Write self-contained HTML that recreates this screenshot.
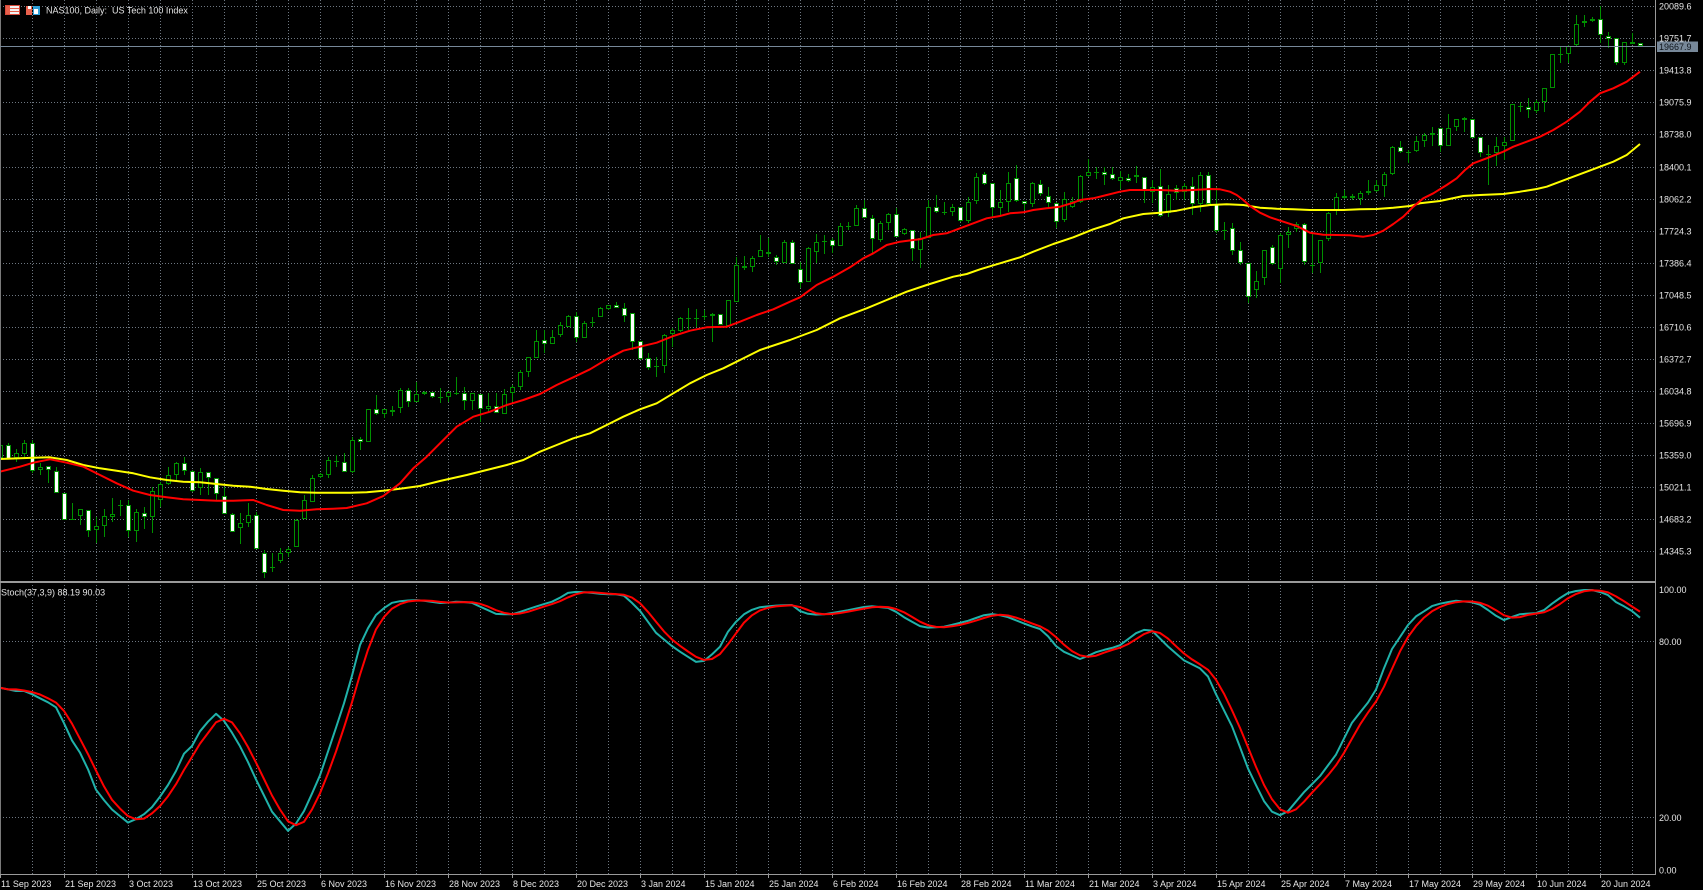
<!DOCTYPE html>
<html><head><meta charset="utf-8">
<style>
html,body{margin:0;padding:0;background:#000;overflow:hidden;}
svg{display:block;}
text{font-family:"Liberation Sans",sans-serif;font-size:9px;fill:#e6e6e6;}
</style></head>
<body>
<svg id="c" width="1703" height="890" viewBox="0 0 1703 890" xmlns="http://www.w3.org/2000/svg">
<rect x="0" y="0" width="1703" height="890" fill="#000"/>
<g id="grid"></g>
<g id="cand" shape-rendering="crispEdges"></g>
<g id="ma"></g>
<g id="stoch"></g>
<g id="axes"></g>
<g id="txt"></g>
</svg>
<script>
(function(){
var G='#009000';
var svg=document.getElementById('c');
function f(n){return Math.round(n*10)/10;}
/* ---------- grid ---------- */
var s='';
for(var j=1;j<=51;j++){var x=32*j+0.5;s+='<line x1="'+x+'" y1="0" x2="'+x+'" y2="874" stroke="#6e7781" stroke-dasharray="1 2"/>';}
var plabels=['14345.3','14683.2','15021.1','15359.0','15696.9','16034.8','16372.7','16710.6','17048.5','17386.4','17724.3','18062.2','18400.1','18738.0','19075.9','19413.8','19751.7','20089.6'];
var t='';
for(var k=0;k<plabels.length;k++){
  var y=Math.round(551-32.04*k)+0.5;
  s+='<line x1="0" y1="'+y+'" x2="1655" y2="'+y+'" stroke="#6e7781" stroke-dasharray="1 2"/>';
  t+='<text x="1659" y="'+(y+3)+'">'+plabels[k]+'</text>';
}
s+='<line x1="0" y1="641.5" x2="1655" y2="641.5" stroke="#6e7781" stroke-dasharray="1 2"/>';
s+='<line x1="0" y1="817.5" x2="1655" y2="817.5" stroke="#6e7781" stroke-dasharray="1 2"/>';
document.getElementById('grid').innerHTML=s;

/* ---------- candles [type(1 bull,0 bear,2 doji), top, bottom, high, low] ---------- */
var B=[
[1,445,458,443,460],[0,445.3,459.3,443.3,459.3],[1,453.3,458.3,449.3,461.7],[1,443.3,454,440,456.7],[0,443.3,470.7,440,473.3],
[1,466.7,470,463.3,475],[0,466,470,466,482.7],[0,470.7,493.3,466.7,493.3],[0,492.7,520,492.7,520],[2,519,519,503.3,520],
[1,509.3,515.7,509.3,525],[0,510,531,510,536.7],[1,526,530,516.7,542.7],[1,516,526,509.3,536.7],[1,514,516.7,498.3,521.7],
[2,505,505,500,516],[0,505,530.7,500,536.7],[1,512.3,531,509.3,541.7],[0,512.7,516.7,507.3,529.3],[1,490.7,516.7,486.7,533.3],
[1,484,500,481.7,507.3],[1,475,484,466.7,485],[1,462.7,475,461.7,480],[0,463.3,471,456.7,475],[0,470.7,491,470,491.7],
[1,471.7,488.3,468.3,495],[0,471.7,477.7,471.7,495],[0,477.7,494,477.7,500],[0,496,514.3,486.7,514.3],[0,514.3,532.3,513.3,532.3],
[1,523.3,528.3,513.3,544],[1,515.3,522.7,503.3,526.7],[0,515.3,549,512,549],[0,553.3,572.7,550,578.3],[2,566.7,566.7,553.3,571.7],
[1,553.3,560.7,548.3,562.7],[1,549.3,553.3,546.7,556.7],[1,520,547.3,519.3,547.3],[1,500,519.3,495,519.3],[1,478.3,502.3,475,502.3],
[1,474,477.3,473.3,478.3],[1,460,475,456.7,478.3],[2,460.7,460.7,455,466.7],[0,461.7,471.7,452.7,471.7],[1,440,471.7,436.7,472.7],
[0,438.7,441.7,436.7,450],[1,409.3,441.7,409.3,441.7],[0,409.3,414.3,395,415],[1,409.3,414,409.3,418.3],[0,410,411.7,406,416],
[1,390,408.3,388.3,413.3],[0,390,401.7,388.3,406.7],[1,394.3,402.3,381.7,402.3],[1,392,394.3,390.7,395],[0,391.7,396.7,391.7,398.3],
[2,397,397,388.3,402.7],[1,392,396.7,390.7,401.7],[2,392.7,392.7,377.3,395],[0,393.3,401,387.3,410],[1,393.3,401,392.7,410],
[0,394.3,409.3,394.3,421.7],[1,405.7,409.3,393.3,413.3],[0,406,412.7,392.7,413.3],[1,394,414,389.3,414],[1,386.7,393.3,385,401.7],
[1,371.7,386.7,370,390],[1,357.3,371.7,357.3,376.7],[1,341,358.3,330,358.3],[0,340,344,330,353.3],[1,336.7,344,330,344],
[1,325,335,321.7,336.7],[1,316,326.7,315,326.7],[0,316,338.3,311.7,341.7],[1,322.7,337.7,320.7,337.7],[2,321.7,321.7,316.7,326.7],
[1,308.3,317.3,306.7,317.3],[1,305,309.3,305,310],[0,305,308.3,301.7,308.3],[0,308.3,315.7,303.3,321.7],[0,313.3,341.7,312.7,350],
[0,340.7,359.3,340.7,360],[0,358.3,368.3,353.3,370],[2,366,366,356.7,377.3],[1,335,365.7,334,373.3],[1,330,334.3,328.3,346.7],
[1,318.3,330.7,316.7,331.7],[2,317.7,317.7,308.3,330],[2,317.7,317.7,309.3,326.7],[2,315.7,315.7,310,320],[1,314,316,313.3,341.7],
[0,314,325,314,325],[1,300,326,300,326.7],[1,265,301.7,257,301.7],[0,265.7,267.7,256,270],[1,258.3,267.3,256,271.7],
[1,250,257.3,235,257.3],[0,251.7,254.3,238,256.7],[0,256.7,262.3,255,265],[1,241.7,262.7,240,263.3],[0,241.7,264,240,264],
[0,269,283.3,261.7,288.3],[1,248.3,282.3,247.3,282.3],[1,242.3,252.3,234,263.3],[2,240.7,240.7,235,254],[0,240,245.7,238.3,253.3],
[1,225.7,245.7,223.3,245.7],[2,226,226,221.7,230],[1,208.3,225.7,205,225.7],[0,207.7,217.7,200,218.3],[0,218.3,239.3,215,252.7],
[1,222.7,240,220.7,241.7],[1,214.3,223.3,213.3,230],[0,214.3,237.3,208.3,237.3],[1,229.3,234.3,228.3,235],[0,230,249,230,260.7],
[1,238.3,250,231.7,268.3],[1,207.3,238.3,200,238.3],[0,207.3,212.3,195,213.3],[2,211.7,211.7,201.7,215],[1,206.7,212.3,204,216],
[0,206.7,221,206.7,221.7],[1,201.7,220.7,197.3,223.3],[1,177.3,200.7,172.7,204],[0,174.3,184,171.7,185],[0,183.3,208.3,183.3,216.7],
[1,202.3,208.3,190,215],[1,182.7,202.3,171.7,211.7],[0,178.3,200.7,165,201.7],[0,200.7,204.3,200.7,210],[1,183.3,204.3,181.7,206.7],
[0,184,194.3,180,195.7],[0,195.7,203.3,186.7,206.7],[0,203.3,221.7,201.7,228.3],[1,199.3,220,191.7,221.7],[1,201,207.3,196.7,208.3],
[1,176,201.7,175,203.3],[1,171.7,175.7,159.3,176.7],[2,171.7,171.7,166.7,179.3],[0,171.7,175,166.7,185],[0,174.3,179.3,166.7,180],
[1,176.7,180.7,170.7,189.3],[0,178.3,181,174,181.7],[0,174.7,176.7,165.7,183.3],[0,176.7,190,176.7,203.3],[1,186.7,191.7,180,203.3],
[0,186,216,169.3,216.7],[1,194.3,213.3,185,217.3],[0,188.3,192.7,185,200],[1,185.7,192.3,182.7,200],[0,185.7,204,176.7,215],
[1,175.3,204,171.7,211.7],[0,175,204.3,171.7,205],[0,204.3,231,186.7,233.3],[2,230.3,230.3,221.7,240],[0,228.3,251,222.7,255],
[0,250,263.3,241.7,265],[0,263.3,296.7,263.3,303.3],[1,280.7,290,270.7,298.3],[1,250,278.3,250,285],[0,246.7,264.3,245,265],
[1,235,269.3,233.3,282.7],[1,232.3,235,226.7,248.3],[1,224.3,228.7,221.7,231.7],[0,224.3,262.3,223.3,265],[2,265,265,233.3,273.3],
[1,240,263.3,240,273.3],[1,213.3,239.3,211.7,240.7],[1,197.3,210,193.3,215],[1,195.7,197.3,190,199.3],[0,196,198.3,194,200],
[1,192.7,199.3,190.7,205],[1,191,192.7,180,195],[1,185.3,190.7,180,191.7],[1,174,185.7,171.7,196.7],[1,147.3,174,146,175],
[0,146.7,152.3,140.7,152.7],[2,151.7,151.7,150,163.3],[1,141.3,151,136,151.7],[1,135,141.3,133.3,146.7],[1,133.3,135,127.3,146],
[0,128.3,146,128.3,151.7],[1,128.3,145.7,114.3,145.7],[1,119.3,127.3,119.3,130.7],[1,118.3,119.3,116.7,131.7],[0,119.3,138.3,119.3,138.3],
[0,137.3,153.3,136.7,156.7],[2,154,154,145,185],[1,145.7,153.3,136.7,166],[1,141.7,145.7,136.7,160],[1,104.3,140.7,104.3,140.7],
[2,106,106,101.7,111.7],[0,106.7,110,98.3,118.3],[1,101.7,110.7,100,113.3],[1,88.3,102.3,88.3,111.7],[1,54,88.3,54,88.3],
[2,54,54,46.7,63.3],[1,46,54.3,45,63.3],[1,24,45,15,46.7],[1,21,23.3,15,27.3],[1,19,21,17.3,21.7],
[0,19,35,6,43.3],[0,35.7,39.3,31.7,48.3],[0,37.7,63.3,37.7,65],[1,42.3,62.7,41.7,65],[0,41.7,43.3,32.7,43.3],
[0,43.3,46,43.3,46.7]
];
s='';
for(var i=0;i<B.length;i++){
  var b=B[i],c=8*i;
  var hi=Math.round(b[3]),lo=Math.round(b[4]),tp=Math.round(b[1]),bt=Math.round(b[2]);
  if(lo<=hi)lo=hi+1;
  s+='<line x1="'+(c+0.5)+'" y1="'+hi+'" x2="'+(c+0.5)+'" y2="'+lo+'" stroke="'+G+'" stroke-width="1"/>';
  if(b[0]==2){
    s+='<line x1="'+(c-2)+'" y1="'+(tp+0.5)+'" x2="'+(c+3)+'" y2="'+(tp+0.5)+'" stroke="'+G+'" stroke-width="1"/>';
  }else{
    var h=bt-tp-1; if(h<1)h=1;
    s+='<rect x="'+(c-1.5)+'" y="'+(tp+0.5)+'" width="4" height="'+h+'" fill="'+(b[0]==1?'#000':'#fff')+'" stroke="'+G+'" stroke-width="1"/>';
  }
}
document.getElementById('cand').innerHTML=s;

/* ---------- moving averages ---------- */
var RED=[[0,471.7],[20,466.7],[33.3,462.7],[50,459.3],[66.7,462.7],[83.3,466.7],[100,475],[116.7,483.3],[133.3,490.7],[150,495],[166.7,497.3],[183.3,499.3],[200,500],[216.7,500.7],[233.3,500.7],[253.3,500],[266.7,505],[283.3,510],[300,510.7],[316.7,509.3],[333.3,508.7],[346.7,508],[366.7,503.3],[383.3,496],[400,483.3],[413.3,468.3],[426.7,456.7],[440,443.3],[456.7,426.7],[473.3,416.7],[490,411.7],[506.7,405],[523.3,400],[540,394],[556.7,385],[573.3,377.3],[590,369.3],[606.7,359.3],[623.3,350.7],[640,346.7],[656.7,342.7],[673.3,336],[690,330.7],[706.7,327.3],[726.7,326.7],[740,321.7],[756.7,315],[773.3,309.3],[790,301.7],[800,297.3],[816.7,285],[833.3,276.7],[850,267.3],[863.3,258.3],[873.3,253.3],[886.7,245],[900,241.7],[913.3,240],[920,239.3],[933.3,235],[946.7,233.3],[960,228.3],[973.3,223.3],[986.7,218.3],[1000,216],[1010,213.3],[1023.3,212.3],[1033.3,210],[1046.7,208.3],[1060,206.7],[1073.3,202.7],[1080,200],[1093.3,198.3],[1106.7,195],[1120,191.7],[1130,190],[1143.3,190],[1160,190],[1176.7,190.7],[1193.3,190],[1210,189],[1220,189.3],[1230,191.7],[1236.7,195],[1243.3,200],[1250,206],[1260,212.7],[1270,217.3],[1283.3,221.7],[1296.7,226],[1310,232.7],[1323.3,234.7],[1336.7,235],[1350,235.3],[1363.3,236.7],[1373.3,235],[1383.3,230.7],[1393.3,224],[1403.3,216.7],[1413.3,206.7],[1423.3,198.3],[1433.3,193.3],[1446.7,185],[1456.7,178.3],[1465,170],[1473.3,163.3],[1486.7,158.3],[1503.3,151.7],[1513.3,146.7],[1526.7,141.7],[1540,136.7],[1553.3,130],[1566.7,121.7],[1580,111.7],[1590,101.7],[1600,93.3],[1613.3,88.3],[1626.7,81.7],[1640,71.7]];
var YEL=[[0,459],[33.3,457.7],[50,457.3],[66.7,460],[83.3,465],[100,468.3],[116.7,470.7],[133.3,473.3],[150,477.3],[166.7,480],[183.3,481.7],[200,482.3],[216.7,484],[233.3,485.7],[250,486.7],[266.7,489],[283.3,490.7],[300,492.3],[316.7,492.7],[333.3,492.7],[350,492.7],[366.7,492.3],[383.3,490.7],[400,488.7],[420,486],[440,481],[466.7,475],[486.7,470],[506.7,465],[523.3,460],[540,451.7],[556.7,445],[573.3,438.3],[590,433.3],[606.7,425],[623.3,416.7],[640,409.3],[656.7,403.3],[673.3,393.3],[690,383.3],[706.7,375],[723.3,368.3],[740,360],[760,350],[790,340],[816.7,330],[840,318.3],[866.7,308.3],[886.7,300],[906.7,291.7],[926.7,285],[953.3,276.7],[966.7,274],[980,269.3],[1000,263.3],[1020,257.3],[1033.3,251.7],[1053.3,244],[1073.3,237.3],[1093.3,229.3],[1110,224],[1123.3,218.3],[1143.3,214],[1160,212.7],[1176.7,210.7],[1193.3,207.3],[1210,205],[1226.7,204.3],[1243.3,205],[1260,207.7],[1276.7,208.7],[1293.3,209.3],[1310,210],[1326.7,210],[1343.3,210],[1360,209.3],[1376.7,209],[1393.3,207.7],[1410,206],[1420,203.3],[1440,201],[1463.3,196],[1480,195],[1503.3,194],[1520,191.7],[1536.7,189],[1546.7,186.7],[1560,181.7],[1573.3,176.7],[1586.7,171.7],[1600,166.7],[1613.3,161.7],[1626.7,155],[1640,144]];
function pl(p){var r=[];for(var i=0;i<p.length;i++)r.push(f(p[i][0])+','+f(p[i][1]));return r.join(' ');}
document.getElementById('ma').innerHTML=
 '<polyline points="'+pl(YEL)+'" fill="none" stroke="#ffff00" stroke-width="2" stroke-linejoin="round"/>'+
 '<polyline points="'+pl(RED)+'" fill="none" stroke="#ff0000" stroke-width="2" stroke-linejoin="round"/>';

/* ---------- stochastic ---------- */
var TEAL=[[0,687.7],[15.7,691],[26.1,691],[36.6,696.7],[47.1,701.7],[57.5,708.3],[70.6,738.3],[83.7,758.3],[96.8,791.7],[112.4,810],[128.1,822.7],[141.2,816.7],[154.3,805],[172.6,778.3],[185.7,750],[193.5,745],[201.4,728.3],[217.1,712.7],[227.5,725],[243.2,751.7],[256.3,780],[272,811.7],[288.7,831.7],[300.7,818.3],[319,778.3],[334.7,731.7],[347.8,691.7],[360.9,641.7],[374,616.7],[389.6,603.3],[402.7,600.7],[418.4,600],[441.9,603.3],[455,601.7],[470.7,602.3],[496.9,614.3],[512.6,614.3],[538.7,605.7],[554.4,601],[570.1,591.7],[585.8,592.3],[606.7,594.3],[622.4,594.3],[638.1,608.3],[656.4,633.3],[674.7,648.3],[698.2,663.3],[706.1,660],[721.8,645],[729.6,628.3],[742.7,615],[755.8,607.7],[774.1,605.7],[792.4,605],[802.8,613.3],[820.1,615],[847.2,610.4],[868.9,606],[890.6,608.2],[906.9,619.1],[923.2,627.8],[944.9,626.7],[966.6,621.3],[988.4,613.6],[1004.6,615.8],[1026.4,624.5],[1042.7,629.9],[1058.9,649.5],[1080.7,659.3],[1097,651.7],[1118.7,646.2],[1140.4,629.9],[1151.3,629.9],[1167.6,646.2],[1183.8,660.3],[1205.6,671.2],[1216.4,695.1],[1232.7,727.7],[1249,771.1],[1265.3,803.7],[1276.2,816.7],[1287,812.4],[1303.3,792.9],[1319.6,776.6],[1335.9,754.8],[1352.2,722.3],[1373.9,695.1],[1390.2,651.7],[1411.9,619.1],[1433.7,605],[1455.4,600.6],[1477.1,602.8],[1493.4,613.6],[1500,619.3],[1506.7,620.7],[1513.3,616],[1523.3,613.3],[1533.3,614],[1543.3,610.7],[1553.3,602.7],[1566.7,593.3],[1580,590],[1593.3,590],[1606.7,594],[1616.7,602.7],[1630,609.3],[1640.7,618.3]];
function interp(p,x){if(x<=p[0][0])return p[0][1];for(var k=1;k<p.length;k++){if(x<=p[k][0]){var a=p[k-1],b=p[k];return a[1]+(b[1]-a[1])*(x-a[0])/(b[0]-a[0]);}}return p[p.length-1][1];}
var tv=[],tp2=[],rp=[];
for(var i=0;i<=205;i++){tv.push(interp(TEAL,8*i));}
for(var i=0;i<=205;i++){
  var a=tv[i],b2=tv[Math.max(i-1,0)],c2=tv[Math.max(i-2,0)];
  var r=(i<2)?a:(a+b2+c2)/3;
  tp2.push((8*i)+','+f(tv[i]));
  rp.push((8*i)+','+f(r));
}
document.getElementById('stoch').innerHTML=
 '<polyline points="'+tp2.join(' ')+'" fill="none" stroke="#20b2aa" stroke-width="2" stroke-linejoin="round"/>'+
 '<polyline points="'+rp.join(' ')+'" fill="none" stroke="#ff0000" stroke-width="2" stroke-linejoin="round"/>';

/* ---------- axes / separators ---------- */
var a='';
a+='<line x1="0.5" y1="0" x2="0.5" y2="875" stroke="#7a7a7a" stroke-width="1"/>';
a+='<rect x="0" y="581" width="1656" height="2" fill="#9a9a9a"/>';
a+='<line x1="1655.5" y1="0" x2="1655.5" y2="875" stroke="#9a9a9a" stroke-width="1"/>';
a+='<line x1="0" y1="874.5" x2="1656" y2="874.5" stroke="#9a9a9a" stroke-width="1"/>';
a+='<line x1="0" y1="46.5" x2="1655" y2="46.5" stroke="#778899" stroke-width="1"/>';
for(var i=0;i<=25;i++){var x=64*i+0.5;a+='<line x1="'+x+'" y1="875" x2="'+x+'" y2="878" stroke="#9a9a9a" stroke-width="1"/>';}
a+='<rect x="1657" y="41.5" width="41" height="10.5" fill="#778899"/>';
document.getElementById('axes').innerHTML=a;

/* ---------- texts ---------- */
var dates=['11 Sep 2023','21 Sep 2023','3 Oct 2023','13 Oct 2023','25 Oct 2023','6 Nov 2023','16 Nov 2023','28 Nov 2023','8 Dec 2023','20 Dec 2023','3 Jan 2024','15 Jan 2024','25 Jan 2024','6 Feb 2024','16 Feb 2024','28 Feb 2024','11 Mar 2024','21 Mar 2024','3 Apr 2024','15 Apr 2024','25 Apr 2024','7 May 2024','17 May 2024','29 May 2024','10 Jun 2024','20 Jun 2024'];
for(var i=0;i<dates.length;i++){t+='<text x="'+(64*i+1)+'" y="887">'+dates[i]+'</text>';}
t+='<text x="1659" y="593">100.00</text>';
t+='<text x="1659" y="645">80.00</text>';
t+='<text x="1659" y="821">20.00</text>';
t+='<text x="1659" y="873.5">0.00</text>';
t+='<text x="1659" y="50" style="fill:#10161c">19667.9</text>';
t+='<text x="1" y="595.5">Stoch(37,3,9) 88.19 90.03</text>';
t+='<text x="46" y="13.5" style="white-space:pre">NAS100, Daily:  US Tech 100 Index</text>';
/* icons */
t+='<rect x="5.5" y="5.5" width="14" height="9" fill="#f2f2f2" stroke="#d84a3a" stroke-width="1"/>';
t+='<rect x="6" y="6" width="4" height="8" fill="#e8604c"/>';
t+='<line x1="6" y1="8.5" x2="19" y2="8.5" stroke="#e8604c"/><line x1="6" y1="11.5" x2="19" y2="11.5" stroke="#e8604c"/>';
t+='<rect x="26" y="6" width="6" height="9" fill="#e8604c"/>';
t+='<rect x="28" y="6" width="3" height="3" fill="#ffffff"/>';
t+='<rect x="33" y="6" width="7" height="9" fill="#2f9fd8"/>';
t+='<rect x="34" y="9" width="4" height="5" fill="#ffffff"/>';
document.getElementById('txt').innerHTML=t;
})();
</script>
</body></html>
